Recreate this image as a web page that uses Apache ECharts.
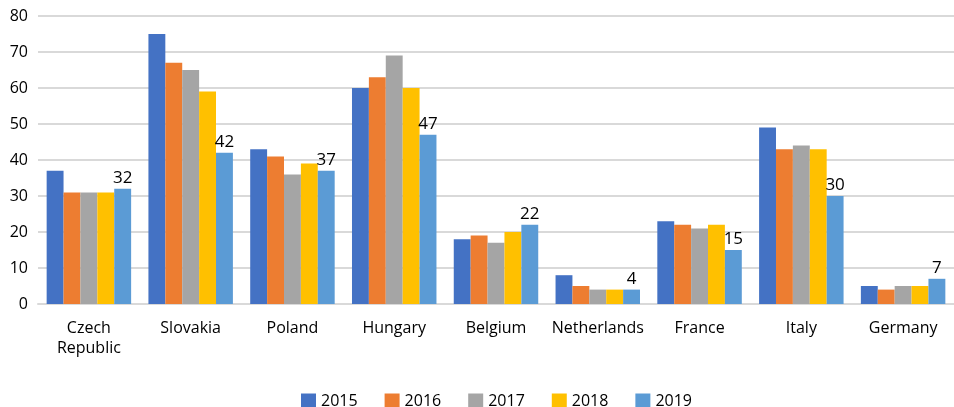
<!DOCTYPE html>
<html>
<head>
<meta charset="utf-8">
<script src="https://cdn.jsdelivr.net/npm/echarts@6/dist/echarts.min.js"></script>
<style>
  html, body { margin: 0; padding: 0; background: #fff; }
  #chart { width: 954px; height: 407px; }
</style>
</head>
<body>
<div id="chart"></div>
<script>
var countries = ["Czech\nRepublic", "Slovakia", "Poland", "Hungary", "Belgium", "Netherlands", "France", "Italy", "Germany"];
var years = ["2015", "2016", "2017", "2018", "2019"];
var v2015 = [37, 75, 43, 60, 18, 8, 23, 49, 5];
var v2016 = [31, 67, 41, 63, 19, 5, 22, 43, 4];
var v2017 = [31, 65, 36, 69, 17, 4, 21, 44, 5];
var v2018 = [31, 59, 39, 60, 20, 4, 22, 43, 5];
var v2019 = [32, 42, 37, 47, 22, 4, 15, 30, 7];

var colors = ["#4472C4", "#ED7D31", "#A5A5A5", "#FFC000", "#5B9BD5"];
var values = [v2015, v2016, v2017, v2018, v2019];
var FONT = "Open Sans";

var series = years.map(function(y, i) {
    return {
        name: y,
        type: "bar",
        data: values[i],
        barGap: "0%",
        barCategoryGap: "17%",
        itemStyle: { color: colors[i] },
        label: {
            show: i == 4,
            position: "top",
            distance: 2,
            color: "#000",
            fontSize: 17,
            fontFamily: FONT
        }
    };
});

var chart = echarts.init(document.getElementById("chart"));
chart.setOption({
    animation: false,
    textStyle: { fontFamily: FONT },
    grid: { left: 38, top: 16, width: 918, height: 288 },
    legend: {
        data: years,
        top: 388,
        left: 296,
        itemWidth: 15,
        itemHeight: 15,
        itemGap: 27,
        icon: "rect",
        textStyle: { fontSize: 16, color: "#000", fontFamily: FONT }
    },
    xAxis: {
        type: "category",
        data: countries,
        axisLine: { lineStyle: { color: "#d9d9d9", width: 2 } },
        axisTick: { show: false },
        axisLabel: { interval: 0, fontSize: 16, color: "#000", margin: 14, lineHeight: 20, fontFamily: FONT }
    },
    yAxis: {
        type: "value",
        min: 0,
        max: 80,
        interval: 10,
        axisLine: { show: false },
        axisTick: { show: false },
        splitLine: { lineStyle: { color: "#d9d9d9", width: 2 } },
        axisLabel: { fontSize: 16, color: "#000", margin: 10, fontFamily: FONT }
    },
    series: series
});
</script>
</body>
</html>
